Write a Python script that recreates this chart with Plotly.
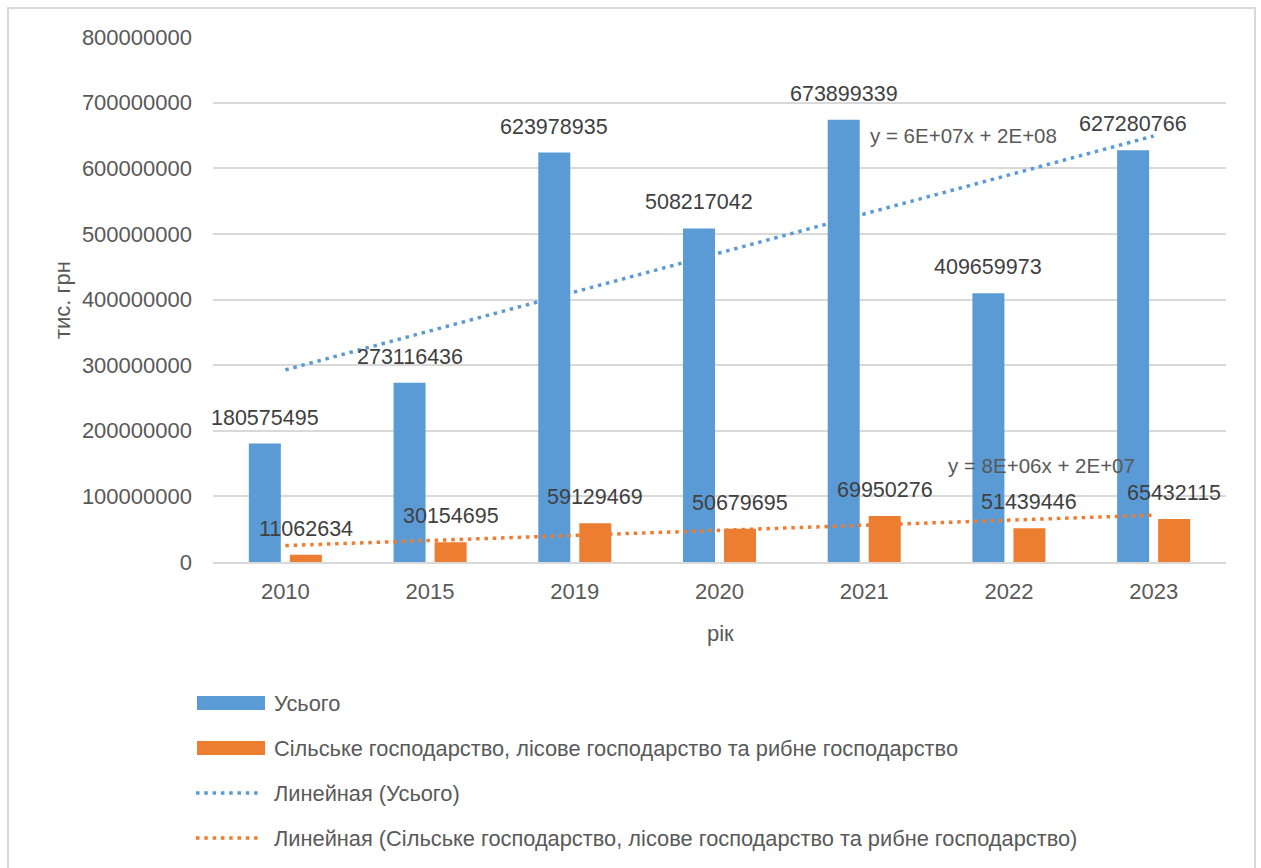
import numpy as np
import plotly.graph_objects as go

# --- data -------------------------------------------------------------
years = ["2010", "2015", "2019", "2020", "2021", "2022", "2023"]
total = [180575495, 273116436, 623978935, 508217042, 673899339, 409659973, 627280766]
agri = [11062634, 30154695, 59129469, 50679695, 69950276, 51439446, 65432115]
y_ticks = [0, 100000000, 200000000, 300000000, 400000000, 500000000,
           600000000, 700000000, 800000000]

name_total = "Усього"
name_agri = "Сільське господарство, лісове господарство та рибне господарство"
trend_total_label = "y = 6E+07x + 2E+08"
trend_agri_label = "y = 8E+06x + 2E+07"

# --- styling ----------------------------------------------------------
BLUE = "#5B9BD5"
ORANGE = "#ED7D31"
GRID = "#D9D9D9"
TICK = "#595959"
LABEL = "#404040"
FONT = "Liberation Sans"

W, H = 1261, 868
L, R, T, B = 213, 35, 37, 306          # plot area margins in pixels
PW, PH = W - L - R, H - T - B


def px(x):
    """Horizontal pixel -> paper coordinate."""
    return (x - L) / PW


def py(y):
    """Vertical pixel (from top) -> paper coordinate."""
    return (H - B - y) / PH


# linear trends over the sequence index 1..n (like a spreadsheet trendline)
idx = np.arange(1, len(years) + 1)
k_t, b_t = np.polyfit(idx, total, 1)
k_a, b_a = np.polyfit(idx, agri, 1)
trend_total = k_t * idx + b_t
trend_agri = k_a * idx + b_a

fig = go.Figure()
fig.add_trace(go.Bar(x=years, y=total, name=name_total, marker_color=BLUE,
                     marker_line_width=0, showlegend=False))
fig.add_trace(go.Bar(x=years, y=agri, name=name_agri, marker_color=ORANGE,
                     marker_line_width=0, showlegend=False))

dot = "3.5px,4.8px"
fig.add_trace(go.Scatter(x=years, y=trend_total, mode="lines",
                         line=dict(color=BLUE, width=3.5, dash=dot),
                         showlegend=False, hoverinfo="skip"))
fig.add_trace(go.Scatter(x=years, y=trend_agri, mode="lines",
                         line=dict(color=ORANGE, width=3.5, dash=dot),
                         showlegend=False, hoverinfo="skip"))

annotations = []
# value labels above each bar (x given as category index)
for i, v in enumerate(total):
    annotations.append(dict(x=i, y=v, xref="x", yref="y", text=str(v),
                            showarrow=False, xshift=-20.5, yshift=26,
                            xanchor="center", yanchor="middle",
                            font=dict(family=FONT, size=21.5, color=LABEL)))
for i, v in enumerate(agri):
    annotations.append(dict(x=i, y=v, xref="x", yref="y", text=str(v),
                            showarrow=False, xshift=20.5, yshift=26,
                            xanchor="center", yanchor="middle",
                            font=dict(family=FONT, size=21.5, color=LABEL)))


def paper_text(x, y, text, size, **kw):
    return dict(x=px(x), y=py(y), xref="paper", yref="paper", text=text,
                showarrow=False, xanchor="center", yanchor="middle",
                font=dict(family=FONT, size=size, color=TICK), **kw)


# trend equations
annotations.append(paper_text(963, 135, trend_total_label, 20.5))
annotations.append(paper_text(1041, 465, trend_agri_label, 20.5))

# axis titles
annotations.append(paper_text(720, 633, "рік", 22))
annotations.append(paper_text(62, 300, "тис. грн", 22, textangle=-90))

# legend drawn by hand: swatches + labels
shapes = []
legend_rows = [
    ("bar", BLUE, name_total, 703),
    ("bar", ORANGE, name_agri, 748),
    ("dot", BLUE, "Линейная (" + name_total + ")", 793),
    ("dot", ORANGE, "Линейная (" + name_agri + ")", 838),
]
for kind, color, text, yc in legend_rows:
    if kind == "bar":
        shapes.append(dict(type="rect", xref="paper", yref="paper",
                           x0=px(197), x1=px(265), y0=py(yc + 7), y1=py(yc - 7),
                           fillcolor=color, line=dict(width=0)))
    else:
        shapes.append(dict(type="line", xref="paper", yref="paper",
                           x0=px(196), x1=px(262), y0=py(yc), y1=py(yc),
                           line=dict(color=color, width=3.5, dash=dot)))
    annotations.append(dict(x=px(272), y=py(yc), xref="paper", yref="paper",
                            text=text, showarrow=False, xanchor="left",
                            yanchor="middle",
                            font=dict(family=FONT, size=21.8, color=TICK)))

# outer chart frame
shapes.append(dict(type="rect", xref="paper", yref="paper",
                   x0=px(8), x1=px(1255), y0=py(878), y1=py(8),
                   line=dict(color=GRID, width=2), fillcolor="rgba(0,0,0,0)",
                   layer="below"))

fig.update_layout(
    width=W, height=H, autosize=False,
    margin=dict(l=L, r=R, t=T, b=B, pad=0),
    paper_bgcolor="white", plot_bgcolor="white",
    barmode="group", bargap=0.433, bargroupgap=0.22,
    font=dict(family=FONT, color=TICK),
    annotations=annotations, shapes=shapes,
    xaxis=dict(type="category", range=[-0.5, len(years) - 0.5],
               showgrid=False, showline=True,
               linecolor=GRID, linewidth=2, ticks="",
               tickfont=dict(family=FONT, size=22, color=TICK),
               ticklabelstandoff=9),
    yaxis=dict(range=[0, 800000000], tickvals=y_ticks,
               ticktext=[str(v) for v in y_ticks],
               showgrid=True, gridcolor=GRID, gridwidth=2,
               zeroline=False, showline=False, ticks="",
               tickfont=dict(family=FONT, size=22, color=TICK),
               ticklabelstandoff=20),
)

fig.write_html("out.html")
